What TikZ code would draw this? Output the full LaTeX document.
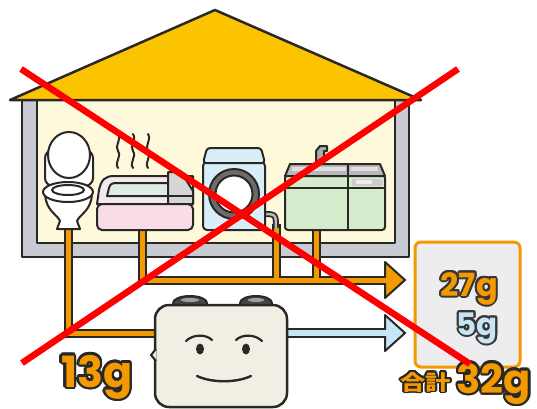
\documentclass[tikz,border=0pt]{standalone}
\usepackage{fontspec}
\usepackage{graphicx}
\usetikzlibrary{calc}
\newfontfamily\numfont{Poppins}
\newfontfamily\cjkfont{Noto Sans CJK JP}

\definecolor{roofyellow}{HTML}{FCC400}
\definecolor{wallcream}{HTML}{FFF9DC}
\definecolor{wallgray}{HTML}{C9CBD2}
\definecolor{ink}{HTML}{2A2727}
\definecolor{pipeorange}{HTML}{F39A00}
\definecolor{pipeblue}{HTML}{C6E5F5}
\definecolor{tankbody}{HTML}{F1EEE4}
\definecolor{capgray}{HTML}{4A4545}
\definecolor{washblue}{HTML}{D8EEF8}
\definecolor{bathpink}{HTML}{F8DDE8}
\definecolor{bathrim}{HTML}{F4EAEE}
\definecolor{waterteal}{HTML}{DCEEE4}
\definecolor{lidgray}{HTML}{D6D6D6}
\definecolor{sinkgreen}{HTML}{D4ECCB}
\definecolor{topgray}{HTML}{B8B8B8}
\definecolor{boxfill}{HTML}{EDEDF0}
\definecolor{boxorange}{HTML}{F39800}
\definecolor{crossred}{HTML}{FF0000}
\definecolor{textink}{HTML}{383636}

% text with a ring of copies behind it: #1 radius, #2 ring colour, #3 fill colour, #4 text
\newcommand\halotext[4]{%
  \foreach \hang in {0,22.5,...,337.5}{%
    \pgfmathsetlengthmacro\hdx{#1*cos(\hang)}%
    \pgfmathsetlengthmacro\hdy{#1*sin(\hang)}%
    \rlap{\hspace*{\hdx}\raisebox{\hdy}{\color{#2}#4}}%
  }%
  {\color{#3}#4}}

\tikzset{
  outline/.style={draw=ink, line width=2pt},
  pipeedge/.style={draw=ink, line width=9pt, line join=miter},
  pipecore/.style={draw=pipeorange, line width=5pt, line join=miter},
  blueedge/.style={draw=ink, line width=10pt},
  bluecore/.style={draw=pipeblue, line width=6pt},
  steam/.style={draw=ink, line width=2pt, line cap=round},
  cross/.style={draw=crossred, line width=6.5pt},
  amount/.style={inner sep=0pt, font=\numfont\bfseries},
}

\begin{document}
\begin{tikzpicture}[x=1pt, y=-1pt, line join=round]
\useasboundingbox (0,0) rectangle (537,408);

% ---- house ----
\draw[outline, fill=wallgray] (22,100) rectangle (409,257);
\draw[outline, fill=wallcream] (37,100) rectangle (395,243);
\draw[draw=ink, line width=2.5pt, fill=roofyellow] (10,100) -- (215,10) -- (421,100) -- cycle;

% ---- outlets and pipe ends ----
\coordinate (toiletout) at (68,226);
\coordinate (bathout) at (142,226);
\coordinate (washout) at (276,224);
\coordinate (sinkout) at (316,226);
\coordinate (tankin) at (162,333);
\coordinate (tankout) at (284,333);
\coordinate (orangeend) at (386,280);
\coordinate (blueend) at (386,333);

% pipe outlines
\draw[pipeedge] (toiletout) |- (tankin);
\draw[pipeedge] (bathout) |- (orangeend);
\draw[pipeedge] (washout) -- (washout |- orangeend);
\draw[pipeedge] (sinkout) -- (sinkout |- orangeend);
\draw[blueedge] (tankout) -- (blueend);
% arrow heads
\draw[outline, fill=pipeorange] (385,262) -- (405,280) -- (385,298) -- cycle;
\draw[outline, fill=pipeblue] (385,315) -- (405,333) -- (385,351) -- cycle;
% pipe cores
\draw[pipecore] (toiletout) |- (tankin);
\draw[pipecore] (bathout) |- ($(orangeend)+(3,0)$);
\draw[pipecore] (washout) -- (washout |- orangeend);
\draw[pipecore] (sinkout) -- (sinkout |- orangeend);
\draw[bluecore] (tankout) -- ($(blueend)+(3,0)$);

% ---- toilet ----
\draw[outline, fill=white, rounded corners=8pt] (45,150) rectangle (93,186);
\draw[outline, fill=white] (69,155) ellipse [x radius=21pt, y radius=23pt];
\draw[outline, fill=white] (45,194) .. controls (46,211) and (57,214) .. (60,221)
  -- (57,229) -- (80,229) -- (77,221) .. controls (80,214) and (91,211) .. (92,194) -- cycle;
\draw[outline, fill=white] (68,192) ellipse [x radius=25pt, y radius=10pt];
\draw[outline, fill=white] (68,190) ellipse [x radius=16pt, y radius=5pt];

% ---- bathtub ----
\foreach \sx in {118,133,148}
  \draw[steam] (\sx,168) .. controls (\sx-4,162) and (\sx+4,157) .. (\sx,151)
    .. controls (\sx-4,146) and (\sx+4,140) .. (\sx,134);
\draw[outline, fill=bathrim] (97,204) -- (99,190) .. controls (101,180) and (105,176) .. (114,176)
  -- (193,176) -- (193,204) -- cycle;
\draw[outline, fill=waterteal] (107,196) -- (109,188) .. controls (110,184) and (112,183) .. (117,183)
  -- (168,183) -- (168,196) -- cycle;
\draw[outline, fill=lidgray] (168,204) -- (168,172) -- (181,172) -- (193,191) -- (193,204) -- cycle;
\draw[outline] (168,196) -- (193,196);
\draw[outline, fill=bathpink, rounded corners=5pt] (97,204) -- (97,230) -- (193,230) -- (193,204) -- cycle;

% ---- washing machine ----
\draw[ink, line width=6pt] (262,214) .. controls (276,214) .. (276,228);
\draw[gray!55, line width=2.5pt] (262,214) .. controls (276,214) .. (276,228);
\draw[outline, fill=washblue, rounded corners=4pt] (203,162) -- (203,230) -- (265,230) -- (265,162) -- cycle;
\draw[outline, fill=washblue, rounded corners=3pt] (203,163) -- (207,148) -- (261,148) -- (265,163) -- cycle;
\draw[outline, fill=capgray!80] (234,194) circle (25pt);
\draw[outline, fill=white] (234,194) circle (18.5pt);

% ---- kitchen sink ----
\draw[outline, fill=gray!65] (316,164) -- (316,151) -- (320,146) -- (327,146) -- (327,151) -- (324,151) -- (324,164) -- cycle;
\draw[outline, fill=sinkgreen, rounded corners=3pt] (285,175) -- (285,230) -- (385,230) -- (385,175) -- cycle;
\draw[outline, fill=topgray] (285,176) -- (290,164) -- (380,164) -- (385,176) -- cycle;
\fill[gray!25] (292,167) rectangle (346,171);
\fill[gray!25] (351,167) rectangle (378,171);
\fill[gray!40] (352,179) rectangle (383,186);
\fill[white!85!gray] (356,180) rectangle (372,184);
\draw[outline] (285,188) -- (385,188);
\draw[outline] (348,164) -- (348,230);

% ---- septic tank ----
\draw[outline, fill=capgray] (190,303) ellipse [x radius=17pt, y radius=7pt];
\draw[outline, fill=capgray] (256,303) ellipse [x radius=16pt, y radius=7pt];
\fill[gray!75] (190,300) ellipse [x radius=9pt, y radius=2pt];
\fill[gray!75] (256,300) ellipse [x radius=8pt, y radius=2pt];
\node[draw=ink, line width=2.5pt, fill=tankbody, rounded corners=14pt,
      minimum width=132pt, minimum height=102pt, inner sep=0pt] (tank) at (221,356) {};
\draw[outline, fill=tankbody] (156,349) -- (151,355) -- (156,361);
% face
\draw[ink, line width=2.2pt, line cap=round] (186,341) .. controls (193,334) and (206,334) .. (212,340);
\draw[ink, line width=2.2pt, line cap=round] (236,340) .. controls (242,334) and (255,334) .. (262,341);
\fill[ink] (200,349) ellipse [x radius=4pt, y radius=5.5pt];
\fill[ink] (246,349) ellipse [x radius=4pt, y radius=5.5pt];
\draw[ink, line width=2.4pt, line cap=round] (197,376) .. controls (212,383) and (236,383) .. (251,376);

% ---- amounts ----
\node[draw=boxorange, line width=3pt, fill=boxfill, rounded corners=6pt,
      minimum width=105pt, minimum height=125pt, inner sep=0pt] (result) at (467.5,304.5) {};
\node[amount, anchor=base east, font=\numfont\bfseries\fontsize{32}{32}\selectfont] (kitchen) at (498,296)
  {\halotext{2pt}{textink}{pipeorange}{27g}};
\node[amount, anchor=base east, font=\numfont\bfseries\fontsize{31}{31}\selectfont] (toilet) at (498,335)
  {\halotext{2pt}{textink}{pipeblue}{5g}};
\node[amount, anchor=base east, font=\numfont\bfseries\fontsize{40}{40}\selectfont] (total) at (531,393)
  {\halotext{2.5pt}{ink}{pipeorange}{32g}};
\node[inner sep=0pt, anchor=base east, font=\cjkfont\bfseries\fontsize{21}{21}\selectfont] (totallabel) at (451,390)
  {\scalebox{1.2}[1]{\halotext{1.6pt}{ink}{pipeorange}{合計}}};
\node[amount, anchor=base west, font=\numfont\bfseries\fontsize{43}{43}\selectfont] (sludge) at (61,387)
  {\halotext{2.5pt}{ink}{pipeorange}{13g}};

% ---- red cross ----
\draw[cross] (21,69) -- (470,364);
\draw[cross] (458,69) -- (22,363);
\end{tikzpicture}
\end{document}
